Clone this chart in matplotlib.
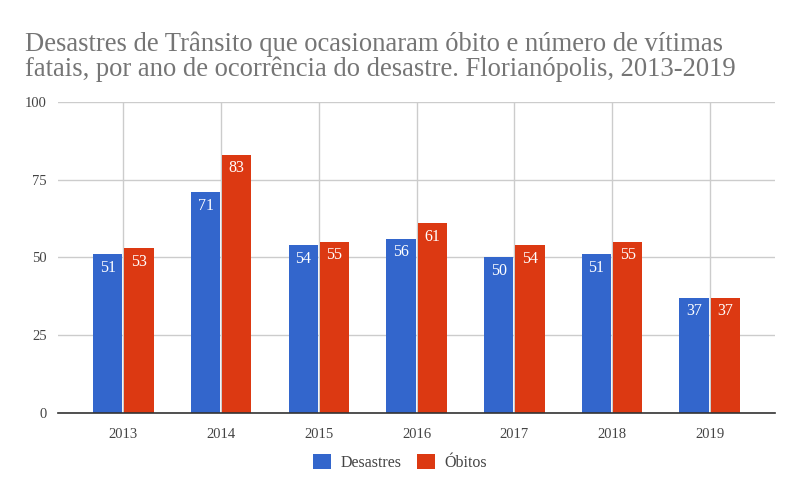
import matplotlib
matplotlib.use("Agg")
import matplotlib.pyplot as plt
import numpy as np

years = [2013, 2014, 2015, 2016, 2017, 2018, 2019]
desastres = [51, 71, 54, 56, 50, 51, 37]
obitos = [53, 83, 55, 61, 54, 55, 37]
yticks = [0, 25, 50, 75, 100]
title = "Desastres de Trânsito que ocasionaram óbito e número de vítimas\nfatais, por ano de ocorrência do desastre. Florianópolis, 2013-2019"

plt.rcParams['font.family'] = ['Liberation Serif', 'DejaVu Serif']

fig = plt.figure(figsize=(8, 4.95), dpi=100)
ax = fig.add_axes([0.0725, 0.1657, 0.8965, 0.6283])

x = np.array(years, dtype=float)
w = 0.30
gap = 0.01
blue = '#3366CC'
red = '#DC3912'
b1 = ax.bar(x - w/2 - gap, desastres, w, color=blue, zorder=3, label='Desastres')
b2 = ax.bar(x + w/2 + gap, obitos, w, color=red, zorder=3, label='Óbitos')

for bars, vals in ((b1, desastres), (b2, obitos)):
    for r, v in zip(bars, vals):
        ax.annotate(str(v), (r.get_x() + r.get_width()/2, v), xytext=(0, -4),
                    textcoords='offset points', ha='center', va='top',
                    color='white', fontsize=11.5, zorder=4)

ax.set_xlim(2012.33, 2019.67)
ax.set_ylim(0, 100)
ax.set_yticks(yticks)
ax.set_xticks(years)
ax.set_xticklabels([str(y) for y in years])
ax.grid(True, color='#cccccc', linewidth=1, zorder=0)
for s in ['top', 'right', 'left']:
    ax.spines[s].set_visible(False)
ax.spines['bottom'].set_color('#333333')
ax.spines['bottom'].set_linewidth(1.2)
ax.spines['bottom'].set_zorder(5)
ax.tick_params(axis='both', length=0, colors='#444444', labelsize=10.5)
ax.tick_params(axis='x', pad=11)
ax.tick_params(axis='y', pad=8)

fig.text(0.031, 0.937, title, ha='left', va='top', fontsize=19.2, color='#757575', linespacing=1.0)

fig.legend(handles=[b1, b2], loc='center', bbox_to_anchor=(0.5, 0.066), ncol=2, frameon=False,
           fontsize=11.5, handlelength=1.1, handleheight=1.1, columnspacing=1.0,
           handletextpad=0.6, labelcolor='#444444')

fig.savefig('out.png', dpi=100)
